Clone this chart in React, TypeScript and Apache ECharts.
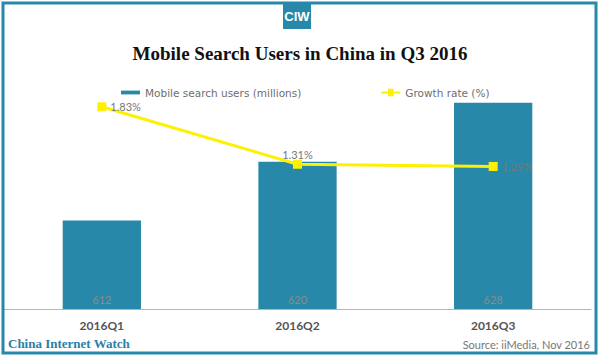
import React, { useEffect, useRef } from "react";
import * as echarts from "echarts";

const categories = ["2016Q1", "2016Q2", "2016Q3"];
const users = [612, 620, 628];
const growth = [1.83, 1.31, 1.29];
const growthLabelPos = ["right", "top", "right"];
const titleText = "Mobile Search Users in China in Q3 2016";
const seriesNames = ["Mobile search users (millions)", "Growth rate (%)"];
const footerLeft = "China Internet Watch";
const footerRight = "Source: iiMedia, Nov 2016";
const logoText = "CIW";

const TEAL = "#2888aa";
const YELLOW = "#fff000";

export default function App() {
  const ref = useRef<HTMLDivElement>(null);
  useEffect(() => {
    if (!ref.current) return;
    const chart = echarts.init(ref.current, undefined, { renderer: "svg" });
    chart.setOption({
      animation: false,
      backgroundColor: "#ffffff",
      legend: {
        left: 116,
        top: 82,
        itemGap: 80,
        itemWidth: 19,
        itemHeight: 8,
        symbolKeepAspect: true,
        textStyle: {
          color: "#6e6e6e",
          fontSize: 10.5,
          fontFamily: "DejaVu Sans",
        },
        data: [
          {
            name: seriesNames[0],
            icon: "path://M0,0 H20 V4 H0 Z",
            itemStyle: { color: TEAL },
          },
          {
            name: seriesNames[1],
            icon: "path://M0,3 H7 V0 H13 V3 H20 V5 H13 V8 H7 V5 H0 Z",
            itemStyle: { color: YELLOW },
          },
        ],
      },
      grid: { left: 4, right: 9, top: 88, bottom: 48, containLabel: false },
      xAxis: {
        type: "category",
        data: categories,
        axisLine: { lineStyle: { color: "#b5b5b5", width: 1 } },
        axisTick: { show: false },
        axisLabel: {
          color: "#555555",
          fontSize: 12,
          fontWeight: "bold",
          fontFamily: "Lato",
          margin: 10,
        },
      },
      yAxis: [
        { type: "value", min: 600, max: 630, show: false, splitLine: { show: false } },
        { type: "value", min: 0, max: 2, show: false, splitLine: { show: false } },
      ],
      series: [
        {
          name: seriesNames[0],
          type: "bar",
          data: users,
          barWidth: "40%",
          itemStyle: { color: TEAL },
          label: {
            show: true,
            position: "insideBottom",
            distance: 4,
            color: "#8e8a86",
            fontSize: 11,
            fontFamily: "Lato",
          },
        },
        {
          name: seriesNames[1],
          type: "line",
          yAxisIndex: 1,
          data: growth.map((v, i) => ({
            value: v,
            label: {
              position: growthLabelPos[i] as any,
              distance: growthLabelPos[i] === "top" ? 0 : 4,
            },
          })),
          lineStyle: { color: YELLOW, width: 3 },
          itemStyle: { color: YELLOW },
          symbol: "rect",
          symbolSize: 9,
          z: 5,
          label: {
            show: true,
            formatter: (p: any) => p.value.toFixed(2) + "%",
            color: "#777777",
            fontSize: 11,
            fontFamily: "Lato",
          },
        },
      ],
      graphic: [
        {
          type: "rect",
          shape: { x: 3, y: 3, width: 593, height: 350 },
          style: { fill: "none", stroke: TEAL, lineWidth: 3 },
          z: 10,
        },
        {
          type: "rect",
          shape: { x: 283, y: 2, width: 28, height: 27 },
          style: { fill: TEAL },
          z: 11,
        },
        {
          type: "text",
          x: 297,
          y: 16,
          style: {
            text: logoText,
            fill: "#ffffff",
            font: "bold 13px 'Liberation Sans'",
            align: "center",
            verticalAlign: "middle",
          },
          z: 12,
        },
        {
          type: "text",
          x: 300,
          y: 53,
          style: {
            text: titleText,
            fill: "#111111",
            font: "bold 19px 'Liberation Serif'",
            align: "center",
            verticalAlign: "middle",
          },
          z: 12,
        },
        {
          type: "text",
          x: 8,
          y: 343.5,
          style: {
            text: footerLeft,
            fill: "#2a7fa6",
            font: "bold 13px 'Liberation Serif'",
            align: "left",
            verticalAlign: "middle",
          },
          z: 12,
        },
        {
          type: "text",
          x: 590,
          y: 344,
          style: {
            text: footerRight,
            fill: "#777777",
            font: "11px Lato",
            align: "right",
            verticalAlign: "middle",
          },
          z: 12,
        },
      ],
    });
    return () => chart.dispose();
  }, []);
  return (
    <div
      ref={ref}
      style={{ position: "fixed", left: 0, top: 0, width: 600, height: 357 }}
    />
  );
}
